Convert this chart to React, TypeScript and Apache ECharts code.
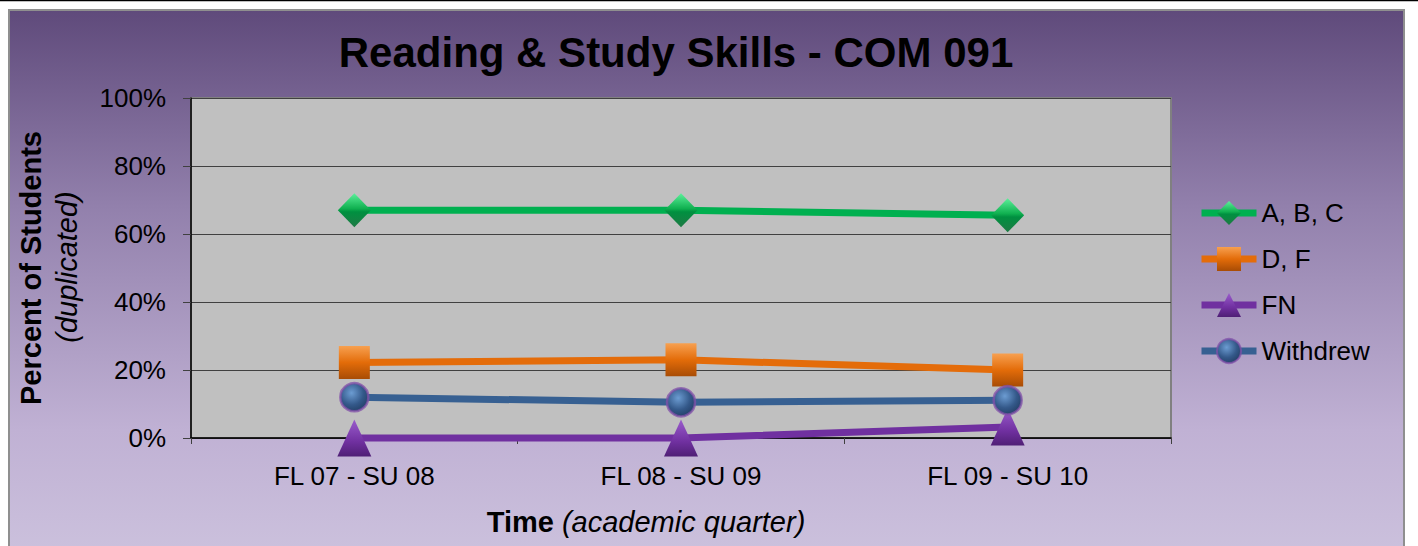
import React, { useEffect, useRef } from "react";
import * as echarts from "echarts";

const categories = ["FL 07 - SU 08", "FL 08 - SU 09", "FL 09 - SU 10"];
const seriesNames = ["A, B, C", "D, F", "FN", "Withdrew"];
const abcValues = [67, 67, 65.5];
const dfValues = [22.2, 23, 20];
const fnValues = [0, 0, 3.2];
const withdrewValues = [12, 10.5, 11.1];
const yMin = 0;
const yMax = 100;
const yStep = 20;

const FONT = "'Liberation Sans', Arial, sans-serif";

const lin = (stops: [number, string][]) =>
  new echarts.graphic.LinearGradient(
    0,
    0,
    0,
    1,
    stops.map(([offset, color]) => ({ offset, color }))
  );

export default function App() {
  const ref = useRef<HTMLDivElement>(null);
  useEffect(() => {
    if (!ref.current) return;
    const chart = echarts.init(ref.current, undefined, { renderer: "svg" });
    const mk = (
      name: string,
      data: number[],
      color: string,
      symbol: string,
      symbolSize: number | number[],
      fill: any,
      border?: { c: string; w: number }
    ) => ({
      name,
      type: "line",
      data,
      clip: false,
      symbol,
      symbolSize,
      showAllSymbol: true,
      lineStyle: { color, width: 7 },
      itemStyle: {
        color: fill,
        borderColor: border ? border.c : color,
        borderWidth: border ? border.w : 0,
      },
      emphasis: { disabled: true },
    });
    chart.setOption({
      animation: false,
      textStyle: { fontFamily: FONT },
      graphic: [
        {
          type: "rect",
          z: -10,
          silent: true,
          shape: { x: 9, y: 10, width: 1395, height: 560 },
          style: {
            fill: lin([
              [0, "#5f4a7b"],
              [0.35, "#9280ac"],
              [0.75, "#c0b1d4"],
              [1, "#cdc3de"],
            ]),
            stroke: "#8f8f8f",
            lineWidth: 2,
          },
        },
        {
          type: "line",
          z: -9,
          silent: true,
          shape: { x1: 0, y1: 0.5, x2: 1418, y2: 0.5 },
          style: { stroke: "#000", lineWidth: 1.5 },
        },
        {
          type: "text",
          x: 676,
          y: 52,
          style: {
            text: "Reading & Study Skills - COM 091",
            font: `bold 42px ${FONT}`,
            fill: "#000",
            textAlign: "center",
            textVerticalAlign: "middle",
          },
        },
        {
          type: "text",
          x: 31,
          y: 268,
          rotation: Math.PI / 2,
          style: {
            text: "Percent of Students",
            font: `bold 29px ${FONT}`,
            fill: "#000",
            textAlign: "center",
            textVerticalAlign: "middle",
          },
        },
        {
          type: "text",
          x: 67,
          y: 267,
          rotation: Math.PI / 2,
          style: {
            text: "(duplicated)",
            font: `italic 29px ${FONT}`,
            fill: "#000",
            textAlign: "center",
            textVerticalAlign: "middle",
          },
        },
        {
          type: "text",
          x: 646,
          y: 522,
          style: {
            text: "{b|Time }{i|(academic quarter)}",
            textAlign: "center",
            textVerticalAlign: "middle",
            rich: {
              b: { font: `bold 29px ${FONT}`, fill: "#000" },
              i: { font: `italic 29px ${FONT}`, fill: "#000" },
            },
          },
        },
      ],
      legend: {
        orient: "vertical",
        left: 1198,
        top: 200,
        padding: 0,
        itemWidth: 55,
        itemHeight: 30,
        itemGap: 20,
        data: seriesNames,
        lineStyle: { width: 7 },
        textStyle: { fontSize: 26, color: "#000", fontFamily: FONT },
        selectedMode: false,
      },
      grid: {
        left: 191,
        top: 98,
        right: 247,
        bottom: 108,
        show: true,
        backgroundColor: "#c0c0c0",
        borderColor: "#808080",
        borderWidth: 2,
      },
      xAxis: {
        type: "category",
        data: categories,
        boundaryGap: true,
        axisLine: { show: true, lineStyle: { color: "#000", width: 1.5 } },
        axisTick: { show: true, length: 6, lineStyle: { color: "#404040" } },
        axisLabel: { fontSize: 26, color: "#000", margin: 25, fontFamily: FONT },
        splitLine: { show: false },
      },
      yAxis: {
        type: "value",
        min: yMin,
        max: yMax,
        interval: yStep,
        axisLine: { show: true, lineStyle: { color: "#000", width: 1.5 } },
        axisTick: { show: true, length: 8, lineStyle: { color: "#404040" } },
        axisLabel: {
          fontSize: 26,
          color: "#000",
          margin: 25,
          formatter: "{value}%",
          fontFamily: FONT,
        },
        splitLine: { show: true, lineStyle: { color: "#404040", width: 1.2 } },
      },
      series: [
        mk(
          seriesNames[0],
          abcValues,
          "#00b050",
          "diamond",
          [33, 34],
          lin([
            [0, "#5cf09a"],
            [0.45, "#10b050"],
            [0.55, "#009040"],
            [1, "#1f7a45"],
          ])
        ),
        mk(
          seriesNames[1],
          dfValues,
          "#e46c0a",
          "rect",
          [31, 33],
          lin([
            [0, "#f7a050"],
            [0.5, "#e36c09"],
            [1, "#a84c05"],
          ])
        ),
        mk(
          seriesNames[2],
          fnValues,
          "#7030a0",
          "triangle",
          [34, 37],
          lin([
            [0, "#9a5ccc"],
            [0.6, "#7030a0"],
            [1, "#4f1f75"],
          ])
        ),
        mk(
          seriesNames[3],
          withdrewValues,
          "#376092",
          "circle",
          28,
          new echarts.graphic.RadialGradient(0.4, 0.35, 0.7, [
            { offset: 0, color: "#6c9cd2" },
            { offset: 0.6, color: "#34598a" },
            { offset: 1, color: "#233f66" },
          ]),
          { c: "rgba(130,80,170,0.75)", w: 2.5 }
        ),
      ],
    });
    return () => chart.dispose();
  }, []);
  return (
    <div
      ref={ref}
      style={{ position: "absolute", left: 0, top: 0, width: 1418, height: 546 }}
    />
  );
}
